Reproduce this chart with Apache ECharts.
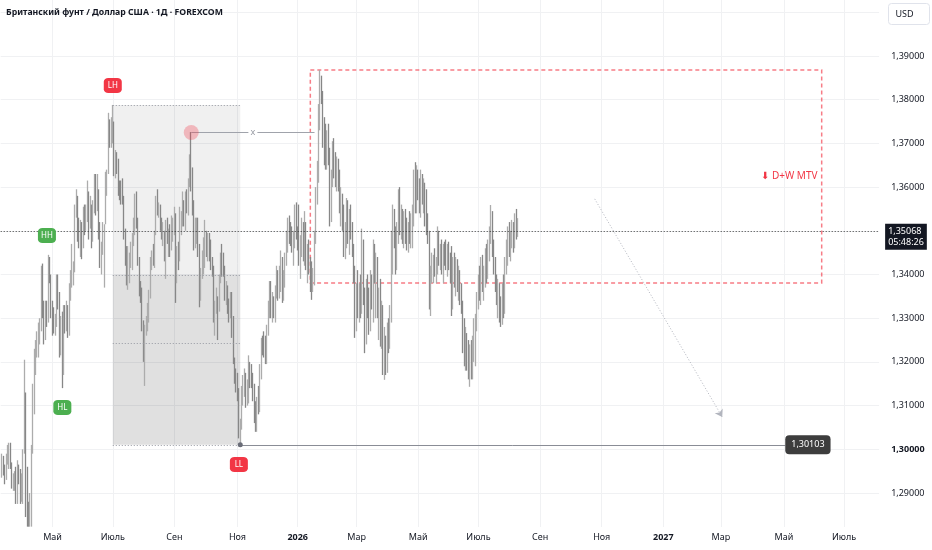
<!DOCTYPE html>
<html><head><meta charset="utf-8">
<script src="https://cdn.jsdelivr.net/npm/echarts@6/dist/echarts.min.js"></script>
<style>html,body{margin:0;padding:0;background:#fff}#c{width:932px;height:550px}</style>
</head><body><div id="c"></div>
<script>
const titleText = 'Британский фунт / Доллар США · 1Д · FOREXCOM';
const startDate = '2025-03-11';
const axisBars = 628;
const monthNames = ['Янв','Фев','Мар','Апр','Май','Июнь','Июль','Авг','Сен','Окт','Ноя','Дек'];
const priceLabels = [1.29,1.30,1.31,1.32,1.33,1.34,1.35,1.36,1.37,1.38,1.39];
const gridPrices = [1.29,1.30,1.31,1.32,1.33,1.34,1.35,1.36,1.37,1.38,1.39,1.40];
const firstOpen = 1.2920;
// daily bars: [low, high, close]  (lows below the visible window read at the window edge)
const m2025_03 = [[1.2880,1.2945,1.2935],[1.2935,1.2990,1.2965],[1.2940,1.2985,1.2955],[1.2920,1.2965,1.2935],[1.2930,1.2990,1.2985],[1.2965,1.3010,1.2995],[1.2955,1.3015,1.3005],[1.2955,1.3015,1.2965],[1.2910,1.2970,1.2915],[1.2905,1.2945,1.2920],[1.2905,1.2950,1.2945],[1.2875,1.2960,1.2885],[1.2875,1.2975,1.2950],[1.2920,1.2965,1.2945],[1.2875,1.2955,1.2915]];
const m2025_04 = [[1.2880,1.2945,1.2915],[1.2875,1.3000,1.2990],[1.2990,1.3205,1.3095],[1.2845,1.3130,1.2890],[1.2823,1.2960,1.2840],[1.2823,1.2880,1.2835],[1.2823,1.2900,1.2850],[1.2823,1.3010,1.2995],[1.2990,1.3150,1.3085],[1.3080,1.3230,1.3215],[1.3170,1.3250,1.3235],[1.3210,1.3270,1.3255],[1.3210,1.3290,1.3265],[1.3240,1.3300,1.3285],[1.3270,1.3420,1.3375],[1.3300,1.3425,1.3320],[1.3240,1.3340,1.3260],[1.3250,1.3340,1.3330],[1.3280,1.3340,1.3310],[1.3290,1.3445,1.3430],[1.3380,1.3440,1.3395],[1.3300,1.3400,1.3330]];
const m2025_05 = [[1.3260,1.3340,1.3285],[1.3265,1.3325,1.3280],[1.3260,1.3310,1.3300],[1.3280,1.3400,1.3375],[1.3320,1.3400,1.3350],[1.3210,1.3360,1.3240],[1.3215,1.3305,1.3300],[1.3140,1.3315,1.3185],[1.3170,1.3330,1.3310],[1.3265,1.3330,1.3300],[1.3270,1.3340,1.3300],[1.3255,1.3330,1.3280],[1.3260,1.3380,1.3360],[1.3340,1.3410,1.3390],[1.3370,1.3470,1.3415],[1.3375,1.3430,1.3420],[1.3405,1.3560,1.3540],[1.3530,1.3595,1.3565],[1.3475,1.3580,1.3500],[1.3460,1.3530,1.3480],[1.3440,1.3525,1.3485],[1.3435,1.3520,1.3460]];
const m2025_06 = [[1.3460,1.3555,1.3535],[1.3490,1.3560,1.3505],[1.3500,1.3560,1.3545],[1.3520,1.3615,1.3570],[1.3480,1.3590,1.3525],[1.3505,1.3580,1.3555],[1.3460,1.3560,1.3500],[1.3475,1.3570,1.3555],[1.3540,1.3630,1.3605],[1.3535,1.3630,1.3570],[1.3545,1.3630,1.3580],[1.3480,1.3595,1.3505],[1.3415,1.3520,1.3435],[1.3400,1.3475,1.3455],[1.3445,1.3520,1.3475],[1.3370,1.3515,1.3505],[1.3515,1.3635,1.3620],[1.3580,1.3640,1.3625],[1.3630,1.3770,1.3730],[1.3690,1.3755,1.3715],[1.3690,1.3760,1.3740]];
const m2025_07 = [[1.3700,1.3788,1.3740],[1.3625,1.3750,1.3645],[1.3620,1.3685,1.3660],[1.3630,1.3680,1.3650],[1.3580,1.3665,1.3600],[1.3570,1.3615,1.3595],[1.3560,1.3615,1.3590],[1.3560,1.3620,1.3575],[1.3480,1.3580,1.3490],[1.3420,1.3505,1.3430],[1.3375,1.3465,1.3385],[1.3365,1.3465,1.3410],[1.3380,1.3450,1.3420],[1.3415,1.3475,1.3440],[1.3410,1.3495,1.3490],[1.3465,1.3530,1.3500],[1.3490,1.3585,1.3575],[1.3505,1.3590,1.3515],[1.3420,1.3530,1.3435],[1.3350,1.3440,1.3360],[1.3335,1.3385,1.3350],[1.3270,1.3370,1.3285],[1.3200,1.3295,1.3210]];
const m2025_08 = [[1.3145,1.3285,1.3275],[1.3260,1.3305,1.3285],[1.3270,1.3335,1.3300],[1.3290,1.3365,1.3355],[1.3345,1.3440,1.3430],[1.3410,1.3455,1.3445],[1.3420,1.3470,1.3430],[1.3415,1.3500,1.3500],[1.3490,1.3580,1.3570],[1.3535,1.3595,1.3550],[1.3530,1.3565,1.3555],[1.3500,1.3560,1.3510],[1.3480,1.3530,1.3495],[1.3465,1.3520,1.3495],[1.3430,1.3500,1.3435],[1.3390,1.3525,1.3520],[1.3470,1.3530,1.3475],[1.3440,1.3505,1.3495],[1.3440,1.3515,1.3460],[1.3455,1.3535,1.3505],[1.3475,1.3530,1.3505]];
const m2025_09 = [[1.3490,1.3555,1.3540],[1.3335,1.3540,1.3390],[1.3380,1.3465,1.3440],[1.3410,1.3475,1.3435],[1.3430,1.3555,1.3505],[1.3490,1.3545,1.3530],[1.3510,1.3590,1.3535],[1.3510,1.3570,1.3525],[1.3500,1.3590,1.3570],[1.3540,1.3595,1.3550],[1.3535,1.3620,1.3610],[1.3600,1.3675,1.3650],[1.3590,1.3726,1.3620],[1.3535,1.3645,1.3555],[1.3455,1.3570,1.3470],[1.3460,1.3530,1.3510],[1.3470,1.3530,1.3520],[1.3440,1.3530,1.3450],[1.3325,1.3470,1.3335],[1.3340,1.3415,1.3400],[1.3390,1.3455,1.3435],[1.3400,1.3485,1.3445]];
const m2025_10 = [[1.3415,1.3525,1.3480],[1.3440,1.3500,1.3450],[1.3430,1.3495,1.3475],[1.3430,1.3495,1.3465],[1.3410,1.3480,1.3425],[1.3395,1.3440,1.3410],[1.3290,1.3420,1.3300],[1.3260,1.3340,1.3320],[1.3310,1.3370,1.3345],[1.3250,1.3350,1.3330],[1.3315,1.3400,1.3395],[1.3380,1.3450,1.3440],[1.3395,1.3470,1.3430],[1.3395,1.3450,1.3410],[1.3340,1.3420,1.3355],[1.3330,1.3385,1.3355],[1.3310,1.3375,1.3325],[1.3290,1.3345,1.3315],[1.3300,1.3360,1.3335],[1.3255,1.3360,1.3265],[1.3195,1.3305,1.3200],[1.3150,1.3210,1.3155],[1.3130,1.3185,1.3145]];
const m2025_11 = [[1.3110,1.3175,1.3135],[1.3025,1.3140,1.3045],[1.3010,1.3070,1.3050],[1.3045,1.3145,1.3140],[1.3100,1.3170,1.3160],[1.3120,1.3185,1.3170],[1.3095,1.3175,1.3120],[1.3100,1.3160,1.3125],[1.3105,1.3215,1.3190],[1.3140,1.3200,1.3165],[1.3140,1.3195,1.3160],[1.3110,1.3175,1.3140],[1.3060,1.3150,1.3070],[1.3040,1.3110,1.3055],[1.3040,1.3120,1.3100],[1.3080,1.3145,1.3095],[1.3085,1.3195,1.3180],[1.3160,1.3255,1.3240],[1.3215,1.3260,1.3235],[1.3210,1.3270,1.3230]];
const m2025_12 = [[1.3195,1.3260,1.3210],[1.3195,1.3285,1.3270],[1.3260,1.3340,1.3330],[1.3300,1.3385,1.3375],[1.3300,1.3385,1.3320],[1.3290,1.3360,1.3340],[1.3300,1.3350,1.3310],[1.3290,1.3375,1.3360],[1.3345,1.3420,1.3405],[1.3340,1.3410,1.3365],[1.3345,1.3420,1.3390],[1.3360,1.3455,1.3430],[1.3335,1.3440,1.3350],[1.3340,1.3410,1.3390],[1.3370,1.3450,1.3440],[1.3420,1.3500,1.3475],[1.3450,1.3530,1.3510],[1.3470,1.3535,1.3500],[1.3465,1.3520,1.3485],[1.3450,1.3510,1.3470],[1.3420,1.3500,1.3490],[1.3460,1.3560,1.3540],[1.3480,1.3565,1.3500]];
const m2026_01 = [[1.3455,1.3510,1.3480],[1.3420,1.3560,1.3440],[1.3390,1.3490,1.3470],[1.3440,1.3530,1.3500],[1.3430,1.3520,1.3455],[1.3420,1.3545,1.3510],[1.3410,1.3520,1.3430],[1.3380,1.3470,1.3450],[1.3400,1.3480,1.3415],[1.3360,1.3440,1.3380],[1.3342,1.3430,1.3370],[1.3360,1.3415,1.3390],[1.3375,1.3500,1.3490],[1.3470,1.3600,1.3580],[1.3560,1.3660,1.3640],[1.3610,1.3790,1.3770],[1.3730,1.3868,1.3840],[1.3790,1.3855,1.3810],[1.3690,1.3820,1.3710],[1.3650,1.3760,1.3700],[1.3640,1.3745,1.3675]];
const m2026_02 = [[1.3640,1.3730,1.3700],[1.3650,1.3745,1.3665],[1.3510,1.3690,1.3540],[1.3520,1.3640,1.3620],[1.3600,1.3705,1.3690],[1.3620,1.3712,1.3640],[1.3600,1.3680,1.3620],[1.3590,1.3670,1.3660],[1.3590,1.3665,1.3610],[1.3540,1.3640,1.3560],[1.3510,1.3600,1.3580],[1.3500,1.3585,1.3520],[1.3440,1.3560,1.3460],[1.3435,1.3520,1.3500],[1.3460,1.3575,1.3555],[1.3470,1.3570,1.3490],[1.3445,1.3550,1.3530],[1.3480,1.3560,1.3500],[1.3440,1.3520,1.3455],[1.3380,1.3470,1.3400]];
const m2026_03 = [[1.3255,1.3420,1.3290],[1.3270,1.3380,1.3350],[1.3300,1.3410,1.3320],[1.3290,1.3380,1.3370],[1.3300,1.3400,1.3320],[1.3310,1.3505,1.3470],[1.3330,1.3480,1.3350],[1.3220,1.3370,1.3240],[1.3240,1.3390,1.3370],[1.3300,1.3400,1.3320],[1.3262,1.3370,1.3290],[1.3270,1.3410,1.3390],[1.3320,1.3400,1.3340],[1.3290,1.3480,1.3460],[1.3380,1.3470,1.3400],[1.3300,1.3450,1.3430],[1.3300,1.3440,1.3320],[1.3250,1.3370,1.3360],[1.3235,1.3390,1.3260],[1.3230,1.3340,1.3300],[1.3170,1.3330,1.3190],[1.3159,1.3280,1.3250]];
const m2026_04 = [[1.3170,1.3260,1.3190],[1.3175,1.3290,1.3270],[1.3220,1.3300,1.3240],[1.3230,1.3330,1.3310],[1.3290,1.3500,1.3480],[1.3400,1.3560,1.3540],[1.3460,1.3550,1.3480],[1.3400,1.3510,1.3430],[1.3410,1.3520,1.3500],[1.3470,1.3595,1.3580],[1.3490,1.3600,1.3510],[1.3480,1.3560,1.3540],[1.3470,1.3550,1.3480],[1.3460,1.3545,1.3530],[1.3470,1.3550,1.3490],[1.3455,1.3530,1.3470],[1.3450,1.3520,1.3510],[1.3470,1.3545,1.3500],[1.3460,1.3540,1.3520],[1.3460,1.3560,1.3540],[1.3510,1.3640,1.3620],[1.3540,1.3657,1.3580]];
const m2026_05 = [[1.3540,1.3650,1.3610],[1.3570,1.3640,1.3590],[1.3540,1.3620,1.3560],[1.3530,1.3640,1.3620],[1.3560,1.3630,1.3575],[1.3540,1.3620,1.3600],[1.3510,1.3610,1.3530],[1.3490,1.3595,1.3510],[1.3470,1.3540,1.3490],[1.3320,1.3500,1.3340],[1.3305,1.3420,1.3400],[1.3380,1.3450,1.3410],[1.3380,1.3445,1.3430],[1.3395,1.3460,1.3410],[1.3380,1.3440,1.3430],[1.3400,1.3510,1.3490],[1.3420,1.3500,1.3440],[1.3410,1.3470,1.3460],[1.3400,1.3480,1.3420],[1.3380,1.3470,1.3455],[1.3420,1.3475,1.3440]];
const m2026_06 = [[1.3410,1.3480,1.3430],[1.3395,1.3470,1.3460],[1.3410,1.3475,1.3420],[1.3380,1.3450,1.3400],[1.3305,1.3465,1.3330],[1.3320,1.3440,1.3420],[1.3370,1.3450,1.3390],[1.3350,1.3440,1.3420],[1.3360,1.3435,1.3380],[1.3340,1.3420,1.3400],[1.3330,1.3410,1.3350],[1.3310,1.3380,1.3330],[1.3220,1.3340,1.3240],[1.3190,1.3300,1.3210],[1.3180,1.3280,1.3260],[1.3180,1.3266,1.3200],[1.3160,1.3250,1.3170],[1.3143,1.3240,1.3220],[1.3160,1.3250,1.3190],[1.3160,1.3260,1.3240],[1.3200,1.3300,1.3280],[1.3190,1.3310,1.3290]];
const m2026_07 = [[1.3270,1.3360,1.3340],[1.3320,1.3400,1.3380],[1.3340,1.3420,1.3360],[1.3330,1.3440,1.3420],[1.3360,1.3445,1.3380],[1.3340,1.3420,1.3400],[1.3370,1.3460,1.3440],[1.3380,1.3470,1.3410],[1.3390,1.3480,1.3465],[1.3430,1.3510,1.3490],[1.3470,1.3559,1.3530],[1.3440,1.3545,1.3460],[1.3400,1.3480,1.3420],[1.3360,1.3440,1.3380],[1.3330,1.3400,1.3350],[1.3300,1.3390,1.3370],[1.3290,1.3380,1.3310],[1.3280,1.3350,1.3300],[1.3285,1.3380,1.3360],[1.3300,1.3400,1.3320],[1.3310,1.3440,1.3430],[1.3400,1.3480,1.3460],[1.3420,1.3510,1.3490]];
const m2026_08 = [[1.3440,1.3520,1.3460],[1.3430,1.3500,1.3480],[1.3460,1.3525,1.3500],[1.3450,1.3520,1.3470],[1.3460,1.3540,1.3520],[1.3480,1.3550,1.3495],[1.3486,1.3529,1.35068]];

// annotations (date, price)
const lastPrice = 1.35068, lastTime = '05:48:26';
const rangeHigh = ['2025-07-01', 1.3788];
const rangeLow = ['2025-11-05', 1.30103];
const rangeMid = 1.33992, rangeOte = 1.32436;
const swingTags = [
  {text:'LH', date:'2025-07-01', price:1.38325, up:false},
  {text:'HH', date:'2025-04-25', price:1.34893, up:true},
  {text:'HL', date:'2025-05-12', price:1.30956, up:true},
  {text:'LL', date:'2025-11-04', price:1.29652, up:false}
];
const circlePt = ['2025-09-17', 1.3725];
const circleLineEnd = '2026-01-19';
const circleMid = '2025-11-18';
const llLineEnd = '2027-05-04';
const zoneTopLeft = ['2026-01-14', 1.3868];
const zoneBottomRight = ['2027-06-09', 1.33805];
const zoneText = '⬇ D+W MTV';
const arrowFrom = ['2026-10-26', 1.3573];
const arrowTo = ['2027-03-02', 1.3074];

// ---- build ----
const bars = [].concat(m2025_03,m2025_04,m2025_05,m2025_06,m2025_07,m2025_08,m2025_09,m2025_10,m2025_11,m2025_12,m2026_01,m2026_02,m2026_03,m2026_04,m2026_05,m2026_06,m2026_07,m2026_08);
let prev = firstOpen;
const ohlc = bars.map(([l,h,c]) => { const o = Math.min(h, Math.max(l, prev)); prev = c; return [o, c, l, h]; });

const cats = [];
{ const d = new Date(startDate + 'T00:00:00Z');
  while (cats.length < axisBars) { const wd = d.getUTCDay(); if (wd > 0 && wd < 6) cats.push(d.toISOString().slice(0,10)); d.setUTCDate(d.getUTCDate() + 1); } }
const labelIdx = new Set();
for (let i = 1; i < cats.length; i++) {
  const m = +cats[i].slice(5,7);
  if (cats[i].slice(0,7) !== cats[i-1].slice(0,7) && m % 2 === 1) labelIdx.add(i);
}
const fmtP = v => v.toFixed(5).replace('.', ',');
const FONT = '"Noto Sans", "DejaVu Sans", sans-serif';
const RED = '#f23645', GREEN = '#4caf50';
const step = 1.401;
const pxPerUnit = 4370;
const plotH = 527;
const yMax = 1.39 + 56 / pxPerUnit;
const yMin = yMax - plotH / pxPerUnit;

const chart = echarts.init(document.getElementById('c'), null, {renderer:'canvas'});
chart.setOption({
  animation: false,
  backgroundColor: '#fff',
  textStyle: {fontFamily: FONT},
  title: {text: titleText, left: 6, top: 8, padding: 0, textStyle: {fontSize: 8.7, fontWeight: 'bold', color: '#131722', fontFamily: FONT}},
  grid: {left: step / 2, top: 0, width: (axisBars - 1) * step, height: plotH},
  xAxis: {
    type: 'category', data: cats, boundaryGap: false,
    axisLine: {show: false}, axisTick: {show: false},
    axisLabel: {
      interval: (i) => labelIdx.has(i), margin: 6, fontSize: 9, color: '#131722', fontFamily: FONT,
      formatter: (v) => { const m = +v.slice(5,7); return m === 1 ? '{b|' + v.slice(0,4) + '}' : monthNames[m-1]; },
      rich: {b: {fontWeight: 'bold', fontSize: 9, color: '#131722', fontFamily: FONT}}
    },
    splitLine: {show: true, interval: (i) => labelIdx.has(i), lineStyle: {color: '#f0f1f3', width: 1}}
  },
  yAxis: {
    type: 'value', position: 'right', min: yMin, max: yMax, scale: true,
    axisLine: {show: false},
    axisTick: {show: false, customValues: gridPrices},
    axisLabel: {
      customValues: priceLabels, margin: 12, fontSize: 9, color: '#131722', fontFamily: FONT,
      formatter: (v) => Math.abs(v - 1.30) < 1e-9 ? '{b|' + fmtP(v) + '}' : fmtP(v),
      rich: {b: {fontWeight: 'bold', fontSize: 9, color: '#131722', fontFamily: FONT}}
    },
    splitLine: {show: true, lineStyle: {color: '#f0f1f3', width: 1}}
  },
  graphic: [{
    type: 'group', left: 888, top: 3,
    children: [
      {type: 'rect', shape: {x: 0, y: 0, width: 41, height: 21, r: 3}, style: {fill: '#fff', stroke: '#e0e3eb', lineWidth: 1}},
      {type: 'text', style: {x: 7, y: 6, text: 'USD', fill: '#131722', font: '9px ' + FONT}}
    ]
  }],
  series: [{
    type: 'candlestick', data: ohlc, clip: true, barWidth: 1, z: 3,
    itemStyle: {color: '#acacac', color0: '#878787', borderColor: '#acacac', borderColor0: '#878787', borderWidth: 1.3},
    markArea: {
      silent: true, z: 1,
      data: [
        [{coord: rangeHigh, itemStyle: {color: 'rgba(0,0,0,0.06)'}}, {coord: [rangeLow[0], rangeMid]}],
        [{coord: [rangeHigh[0], rangeMid], itemStyle: {color: 'rgba(0,0,0,0.12)'}}, {coord: rangeLow}],
        [{coord: zoneTopLeft, itemStyle: {color: 'rgba(0,0,0,0)', borderColor: 'rgba(242,54,69,0.65)', borderWidth: 1.5, borderType: [4,3]},
          label: {show: true, position: 'insideRight', distance: 5, formatter: zoneText, color: RED, fontSize: 10, fontFamily: FONT}},
         {coord: zoneBottomRight}]
      ]
    },
    markLine: {
      silent: true, symbol: ['none','none'], z: 4,
      label: {show: false},
      data: [
        [{coord: rangeHigh, lineStyle: {color: '#9598a1', type: [1,2], width: 1}}, {coord: [rangeLow[0], rangeHigh[1]]}],
        [{coord: [rangeHigh[0], rangeMid], lineStyle: {color: '#9598a1', type: [1,2], width: 1}}, {coord: [rangeLow[0], rangeMid]}],
        [{coord: [rangeHigh[0], rangeOte], lineStyle: {color: '#9598a1', type: [1,2], width: 1}}, {coord: [rangeLow[0], rangeOte]}],
        [{coord: [rangeHigh[0], rangeLow[1]], lineStyle: {color: '#9598a1', type: [1,2], width: 1}}, {coord: rangeLow}],
        [{coord: circlePt, lineStyle: {color: '#a0a3ab', type: 'solid', width: 1}}, {coord: [circleLineEnd, circlePt[1]]}],
        [{coord: rangeLow, lineStyle: {color: '#8a8d96', type: 'solid', width: 1},
          label: {show: true, position: 'end', distance: 0, formatter: fmtP(rangeLow[1]), color: '#fff', backgroundColor: '#3d3d3d',
                  borderRadius: 4, padding: [5,6], fontSize: 9, fontFamily: FONT}},
         {coord: [llLineEnd, rangeLow[1]]}],
        [{coord: arrowFrom, symbol: 'none', lineStyle: {color: '#b2b5be', type: [1,2], width: 1}},
         {coord: arrowTo, symbol: 'arrow', symbolSize: 7}],
        {yAxis: lastPrice, lineStyle: {color: '#3a3a3a', type: [1,2], width: 1},
         label: {show: true, position: 'end', distance: 6, offset: [0, 6], formatter: fmtP(lastPrice) + '\n' + lastTime,
                 color: '#fff', backgroundColor: '#131722', padding: [2,3], fontSize: 9, lineHeight: 11, fontFamily: FONT}}
      ]
    },
    markPoint: {
      silent: true, z: 5,
      data: swingTags.map(t => ({
        coord: [t.date, t.price], symbol: 'roundRect', symbolSize: [18,15],
        itemStyle: {color: t.up ? GREEN : RED},
        label: {show: true, position: 'inside', formatter: t.text, color: '#fff', fontSize: 8, fontFamily: FONT}
      })).concat([
        {coord: circlePt, symbol: 'circle', symbolSize: 15, itemStyle: {color: 'rgba(242,54,69,0.3)'}, label: {show: false}},
        {coord: rangeLow, symbol: 'circle', symbolSize: 5, itemStyle: {color: '#6a6d78'}, label: {show: false}},
        {coord: [circleMid, circlePt[1]], symbol: 'rect', symbolSize: [9,9], itemStyle: {color: '#fff'},
         label: {show: true, position: 'inside', formatter: 'x', color: '#9598a1', fontSize: 9, fontFamily: FONT}}
      ])
    }
  }]
});
</script></body></html>
